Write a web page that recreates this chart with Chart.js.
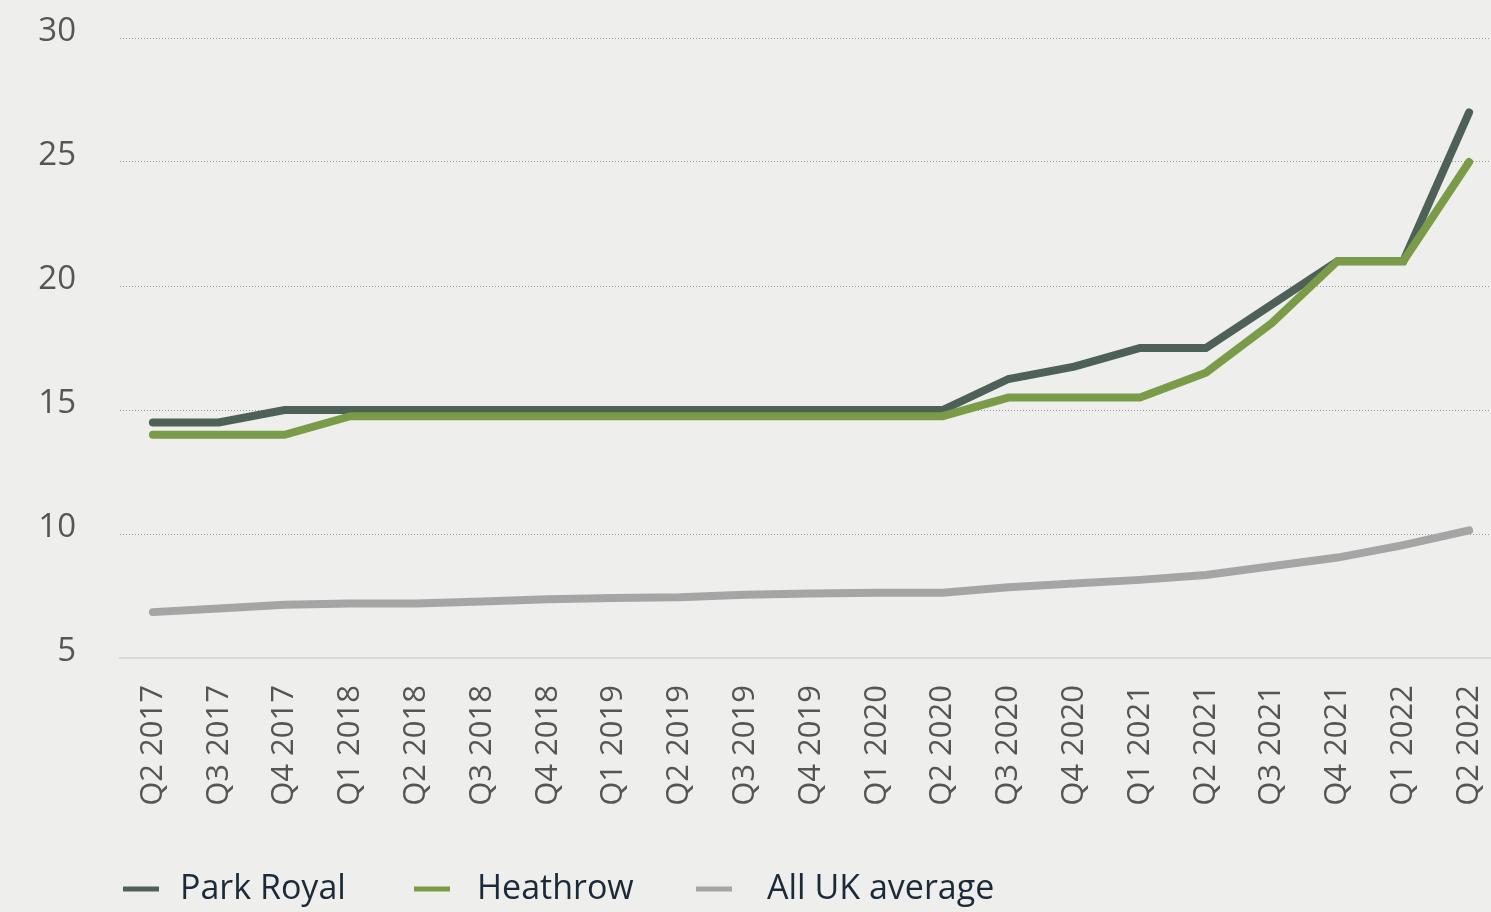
<!DOCTYPE html>
<html>
<head>
<meta charset="utf-8">
<script src="https://cdn.jsdelivr.net/npm/chart.js@4/dist/chart.umd.min.js"></script>
<style>
    html, body { margin: 0; padding: 0; background: #eeeeec; overflow: hidden; }
    #wrap { position: relative; width: 1502px; height: 912px; }
</style>
</head>
<body>
<div id="wrap"><canvas id="rents"></canvas></div>
<script>
// quarterly prime rents, £ per sq ft
const quarters = ['Q2 2017', 'Q3 2017', 'Q4 2017', 'Q1 2018', 'Q2 2018', 'Q3 2018', 'Q4 2018',
    'Q1 2019', 'Q2 2019', 'Q3 2019', 'Q4 2019', 'Q1 2020', 'Q2 2020', 'Q3 2020', 'Q4 2020',
    'Q1 2021', 'Q2 2021', 'Q3 2021', 'Q4 2021', 'Q1 2022', 'Q2 2022'];
const parkRoyal = [14.5, 14.5, 15, 15, 15, 15, 15, 15, 15, 15, 15, 15, 15, 16.25, 16.75, 17.5, 17.5, 19.25, 21, 21, 27];
const heathrow = [14, 14, 14, 14.75, 14.75, 14.75, 14.75, 14.75, 14.75, 14.75, 14.75, 14.75, 14.75, 15.5, 15.5, 15.5, 16.5, 18.5, 21, 21, 25];
const ukAverage = [6.85, 7.0, 7.15, 7.2, 7.2, 7.28, 7.37, 7.42, 7.45, 7.55, 7.6, 7.63, 7.63, 7.85, 8.0, 8.15, 8.35, 8.7, 9.05, 9.55, 10.15];
const yTicks = [5, 10, 15, 20, 25, 30];

const FONT = "'Open Sans', 'Noto Sans', sans-serif";

// legend drawn as short bars under the axis labels
const lineLegend = {
    id: 'lineLegend',
    afterDraw(chart, args, opts) {
        const ctx = chart.ctx;
        ctx.save();
        ctx.font = opts.size + 'px ' + FONT;
        ctx.textBaseline = 'middle';
        ctx.textAlign = 'left';
        chart.data.datasets.forEach((ds, i) => {
            ctx.fillStyle = ds.borderColor;
            ctx.fillRect(opts.swatchX[i], opts.y - 2.5, 36, 5);
            ctx.fillStyle = opts.color;
            ctx.fillText(ds.label, opts.textX[i], opts.y);
        });
        ctx.restore();
    }
};

const line = (label, data, color, order) => ({
    label, data, order,
    borderColor: color,
    backgroundColor: color,
    borderWidth: 8,
    borderCapStyle: 'round',
    borderJoinStyle: 'miter',
    pointRadius: 0,
    tension: 0,
    fill: false
});

new Chart(document.getElementById('rents'), {
    type: 'line',
    data: {
        labels: quarters,
        datasets: [
            line('Park Royal', parkRoyal, '#4e6157', 2),
            line('Heathrow', heathrow, '#7a9c48', 1),
            line('All UK average', ukAverage, '#a5a5a5', 0)
        ]
    },
    plugins: [lineLegend],
    options: {
        responsive: true,
        maintainAspectRatio: false,
        animation: false,
        layout: { padding: { top: 38, left: 0, right: 0, bottom: 0 } },
        scales: {
            x: {
                offset: true,
                grid: { display: false },
                border: { display: true, color: '#d9d9d7', width: 2 },
                ticks: {
                    color: '#555555',
                    font: { family: FONT, size: 31 },
                    minRotation: 90,
                    maxRotation: 90,
                    padding: 19,
                    autoSkip: false
                },
                afterFit(scale) {
                    scale.height = 254;
                    scale.paddingLeft = 0;
                    scale.paddingRight = 0;
                }
            },
            y: {
                min: 5,
                max: 30,
                afterBuildTicks(scale) { scale.ticks = yTicks.map(v => ({ value: v })); },
                grid: {
                    drawTicks: false,
                    lineWidth: 1,
                    color: c => c.tick && c.tick.value === 5 ? 'rgba(0,0,0,0)' : '#9a9a9a'
                },
                border: { display: false, dash: [1, 2] },
                ticks: {
                    color: '#555555',
                    font: { family: FONT, size: 33 },
                    padding: 44,
                    labelOffset: -6
                },
                afterFit(scale) {
                    scale.width = 120;
                    scale.paddingTop = 0;
                    scale.paddingBottom = 0;
                }
            }
        },
        plugins: {
            legend: { display: false },
            tooltip: { enabled: false },
            lineLegend: {
                y: 889, size: 34, color: '#1b2a38',
                swatchX: [123, 414, 696],
                textX: [180, 477, 767]
            }
        }
    }
});
</script>
</body>
</html>
